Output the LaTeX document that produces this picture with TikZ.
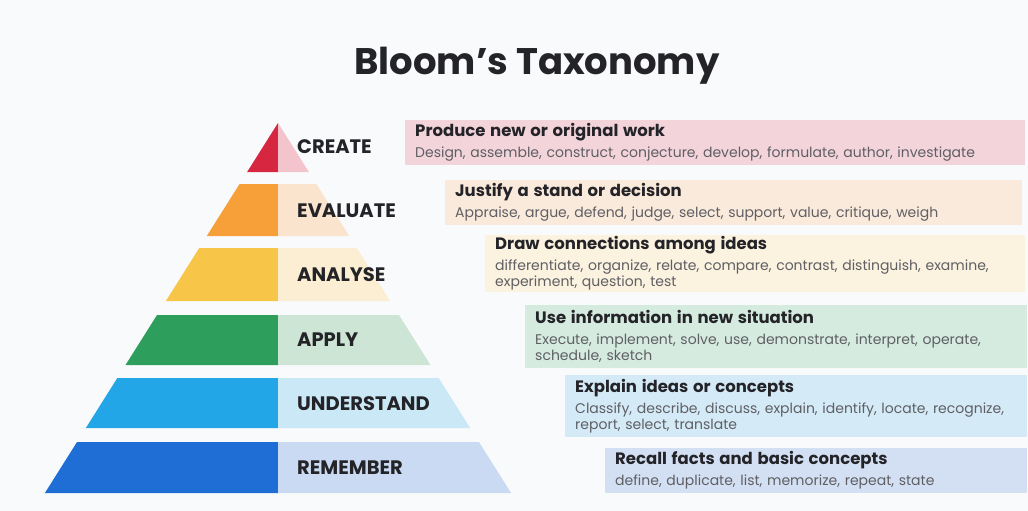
\documentclass[tikz,border=0pt]{standalone}
\usepackage{fontspec}
\setmainfont{Poppins}
\usetikzlibrary{positioning,calc}
\definecolor{pagebg}{RGB}{249,250,252}
\definecolor{inkdark}{RGB}{35,35,40}
\definecolor{inkgray}{RGB}{95,95,100}
\definecolor{createD}{RGB}{214,38,64}
\definecolor{createL}{RGB}{244,196,204}
\definecolor{createB}{RGB}{243,212,219}
\definecolor{evalD}{RGB}{247,160,58}
\definecolor{evalL}{RGB}{251,228,205}
\definecolor{evalB}{RGB}{250,234,219}
\definecolor{analD}{RGB}{247,198,72}
\definecolor{analL}{RGB}{251,238,210}
\definecolor{analB}{RGB}{251,242,223}
\definecolor{applyD}{RGB}{46,158,92}
\definecolor{applyL}{RGB}{204,229,213}
\definecolor{applyB}{RGB}{213,235,224}
\definecolor{undD}{RGB}{35,166,232}
\definecolor{undL}{RGB}{202,232,246}
\definecolor{undB}{RGB}{212,235,247}
\definecolor{remD}{RGB}{30,110,214}
\definecolor{remL}{RGB}{201,218,242}
\definecolor{remB}{RGB}{211,224,243}
% half width of the pyramid at height y
\newcommand{\pyrx}[1]{278-0.63*(#1-123)}
\newcommand{\hd}[1]{\textcolor{inkdark}{\bfseries\fontsize{16.5}{18}\selectfont #1}}

\begin{document}
\begin{tikzpicture}[x=1pt,y=-1pt,
  lvl/.style={anchor=west, inner sep=0pt, text=inkdark,
    font=\fontsize{19.5}{22}\selectfont\bfseries},
  descbox/.style={anchor=north west, inner xsep=10pt, inner ysep=0pt,
    minimum width=#1, text width=#1-18pt,
    align=left, text=inkgray, font=\fontsize{14}{16}\selectfont}]
\fill[pagebg] (0,0) rectangle (1028,511);
\node[text=inkdark, font=\fontsize{37}{42}\selectfont\bfseries] (title) at (537,66) {Bloom's Taxonomy};

% PYRAMID: dark left half, light right half
\foreach \yt/\yb/\dark/\light in {123/172/createD/createL, 184/236/evalD/evalL,
    248/301/analD/analL, 315/365/applyD/applyL, 378/428/undD/undL, 442/493/remD/remL}{
  \fill[\dark] ({\pyrx{\yt}},\yt) -- (278,\yt) -- (278,\yb) -- ({\pyrx{\yb}},\yb) -- cycle;
  \fill[\light] (278,\yt) -- ({556-(\pyrx{\yt})},\yt) -- ({556-(\pyrx{\yb})},\yb) -- (278,\yb) -- cycle;
}
\node[lvl] (create) at (297,147) {CREATE};
\node[lvl] (evaluate) at (297,211) {EVALUATE};
\node[lvl] (analyse) at (297,275) {ANALYSE};
\node[lvl] (apply) at (297,340) {APPLY};
\node[lvl] (understand) at (297,404) {UNDERSTAND};
\node[lvl] (remember) at (297,468) {REMEMBER};

% DESCRIPTION BOXES
\node[descbox=618pt, fill=createB, minimum height=45pt] (createbox) at (405,120)
  {\hd{Produce new or original work}\\[5pt]
   Design, assemble, construct, conjecture, develop, formulate, author, investigate};
\node[descbox=575pt, fill=evalB, minimum height=45pt] (evalbox) at (445,180)
  {\hd{Justify a stand or decision}\\[5pt]
   Appraise, argue, defend, judge, select, support, value, critique, weigh};
\node[descbox=538pt, fill=analB, minimum height=57pt] (analbox) at (485,235)
  {\hd{Draw connections among ideas}\\[5pt]
   differentiate, organize, relate, compare, contrast, distinguish, examine,\\
   experiment, question, test};
\node[descbox=500pt, fill=applyB, minimum height=63pt] (applybox) at (525,305)
  {\hd{Use information in new situation}\\[5pt]
   Execute, implement, solve, use, demonstrate, interpret, operate,\\
   schedule, sketch};
\node[descbox=460pt, fill=undB, minimum height=62pt] (undbox) at (565,375)
  {\hd{Explain ideas or concepts}\\[5pt]
   Classify, describe, discuss, explain, identify, locate, recognize,\\
   report, select, translate};
\node[descbox=420pt, fill=remB, minimum height=45pt] (rembox) at (605,448)
  {\hd{Recall facts and basic concepts}\\[5pt]
   define, duplicate, list, memorize, repeat, state};
\end{tikzpicture}
\end{document}
